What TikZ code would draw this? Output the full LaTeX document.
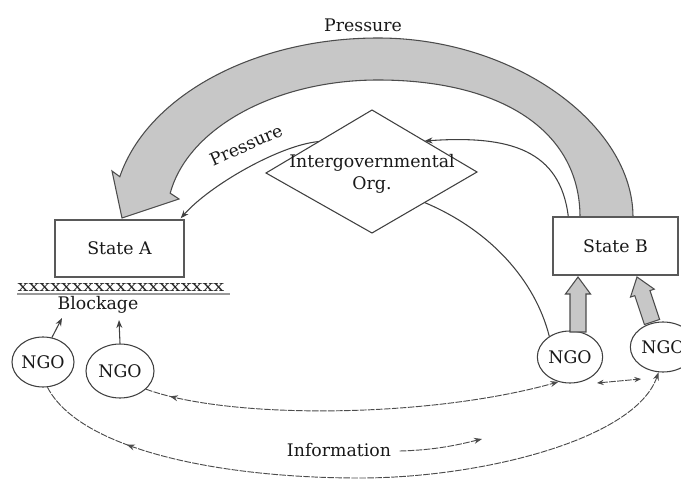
\documentclass[tikz,border=0pt]{standalone}
\usepackage{graphicx}
\usepackage{fontspec}
\setmainfont{DejaVu Serif}
\usetikzlibrary{shapes.geometric,calc,decorations.markings,arrows.meta}
\begin{document}
\begin{tikzpicture}[x=0.75pt,y=-0.75pt,
  lbl/.style={font=\fontsize{13}{16.5}\selectfont, text=black!90},
  box/.style={draw=black!65, line width=1.1pt, inner sep=0, fill=white, lbl},
  ngo/.style={ellipse, draw=black!75, line width=0.8pt, inner sep=0, fill=white, lbl,
              minimum width=49pt, minimum height=39pt},
  thinline/.style={draw=black!75, line width=0.8pt},
  tip/.style={-{Stealth[length=6pt,width=4.5pt]}},
  netline/.style={draw=black!70, line width=0.7pt, dash pattern=on 5pt off 1pt},
  blockarrow/.style={fill=black!22, draw=black!70, line width=0.8pt}
]
\useasboundingbox (0,0) rectangle (681,481);

% big gray pressure arrow
\filldraw[blockarrow]
  (633,217) .. controls (633,125) and (515,38) .. (378,38)
  .. controls (254.5,38) and (147.6,95.5) .. (119.8,176.7)
  -- (112,171) -- (122,218) -- (179,199) -- (170.2,193.2)
  .. controls (188,127.8) and (275.7,80) .. (378,80)
  .. controls (500,80) and (580,130) .. (580,217) -- cycle;
\node[lbl] (pressTop) at (363,25) {Pressure};

% boxes
\node[box, minimum width=96.75pt, minimum height=42.75pt] (stateA) at (119.5,248.5) {State A};
\node[box, minimum width=93.75pt, minimum height=43.5pt] (stateB) at (615.5,246) {State B};

% intergovernmental organisation (diamond)
\coordinate (igoN) at (372,110);
\coordinate (igoE) at (477,172);
\coordinate (igoS) at (372,233);
\coordinate (igoW) at (266,173);
\coordinate (igoNW) at ($(igoN)!0.5!(igoW)$);
\coordinate (igoNE) at ($(igoN)!0.5!(igoE)$);
\coordinate (igoSE) at ($(igoS)!0.5!(igoE)$);
\filldraw[draw=black!75, fill=white, line width=0.8pt] (igoN) -- (igoE) -- (igoS) -- (igoW) -- cycle;
\node[lbl, align=center] (igotext) at (372,174) {Intergovernmental\\Org.};

% NGOs
\node[ngo, minimum width=46.5pt, minimum height=37.5pt] (ngo1) at (43,362) {NGO};
\node[ngo, minimum width=51pt, minimum height=40.5pt] (ngo2) at (120,371) {NGO};
\node[ngo] (ngo3) at (570,357) {NGO};
\node[ngo, minimum height=37.5pt] (ngo4) at (663,347) {NGO};

% blockage
\node[inner sep=0, text=black!85] (xx) at (121,287) {\resizebox{155pt}{6pt}{xxxxxxxxxxxxxxxxxxx}};
\draw[black!40, line width=1.2pt] ($(xx.south west)+(0,3)$) -- ($(xx.south east)+(5,3)$);
\node[lbl, inner sep=1pt] (blk) at (98,305) {Blockage};
\coordinate (t1) at (62,318);
\coordinate (t2) at (119,320);
\draw[thinline, tip] (ngo1.70) -- (t1);
\draw[thinline, tip] (ngo2.north) -- (t2);

% thin pressure arrow from IGO to State A
\coordinate (aEnd) at ($(stateA.north east)+(-4,-1)$);
\draw[thinline, tip] (igoNW) .. controls (280,145) and (210,185) .. (aEnd);
\node[lbl, rotate=24, inner sep=1pt] (pressSmall) at (246,145) {Pressure};

% State B to IGO
\coordinate (bStart) at ($(stateB.north west)+(16,0)$);
\draw[thinline, tip] (bStart) .. controls (560,150) and (510,135) .. (igoNE);

% IGO to NGO3
\draw[thinline] (igoSE) .. controls (490,230) and (535,280) .. (ngo3.135);

% block arrows NGO -> State B
\coordinate (s3) at (578,332); \coordinate (e3) at (578,277);
\coordinate (s4) at (652,322); \coordinate (e4) at (637,277);
\foreach \s/\e in {s3/e3, s4/e4}{
  \coordinate (h) at ($(\e)!12.75pt!(\s)$);
  \filldraw[blockarrow]
    ($(\s)!6pt!90:(\e)$) -- ($(h)!6pt!90:(\e)$) -- ($(h)!9.4pt!90:(\e)$) -- (\e)
    -- ($(h)!9.4pt!-90:(\e)$) -- ($(h)!6pt!-90:(\e)$) -- ($(\s)!6pt!-90:(\e)$) -- cycle;
}

% network connections
\draw[netline, tip, postaction={decorate}, decoration={markings,
      mark=at position 0.06 with {\arrowreversed{Stealth[length=6pt,width=4.5pt]}}}]
  (ngo2.-35) .. controls (230,420) and (430,418) .. (ngo3.-115);
\coordinate (bottom) at (360,478);
\draw[netline, tip, postaction={decorate}, decoration={markings,
      mark=at position 0.15 with {\arrowreversed{Stealth[length=6pt,width=4.5pt]}}}]
  (ngo1.-80) .. controls (80,450) and (220,478) .. (bottom)
  .. controls (480,478) and (635,440) .. (ngo4.-100);
\coordinate (n3a) at (597,383); \coordinate (n4a) at (641,379);
\draw[netline, {Stealth[length=5pt,width=4pt]}-{Stealth[length=5pt,width=4pt]}] (n3a) -- (n4a);

% information
\node[lbl] (info) at (339,450) {Information};
\coordinate (infotip) at (482,439);
\draw[netline, tip] ($(info.east)+(4,1)$) .. controls (440,450) and (465,443) .. (infotip);
\end{tikzpicture}
\end{document}
